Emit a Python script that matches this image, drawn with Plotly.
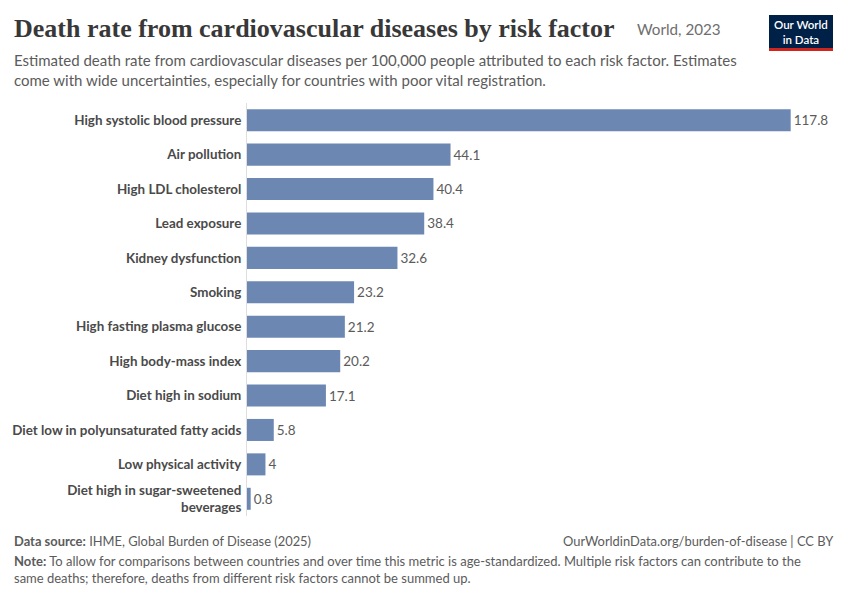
import plotly.graph_objects as go

# Data (World, 2023), deaths per 100,000
risk_factors = [
    "High systolic blood pressure",
    "Air pollution",
    "High LDL cholesterol",
    "Lead exposure",
    "Kidney dysfunction",
    "Smoking",
    "High fasting plasma glucose",
    "High body-mass index",
    "Diet high in sodium",
    "Diet low in polyunsaturated fatty acids",
    "Low physical activity",
    "Diet high in sugar-sweetened<br>beverages",
]
death_rates = [117.8, 44.1, 40.4, 38.4, 32.6, 23.2, 21.2, 20.2, 17.1, 5.8, 4, 0.8]
value_labels = ["117.8", "44.1", "40.4", "38.4", "32.6", "23.2", "21.2", "20.2", "17.1", "5.8", "4", "0.8"]

BAR_COLOR = "#6d87b3"
TEXT_GRAY = "#5b5b5b"

fig = go.Figure()
fig.add_trace(go.Bar(
    x=death_rates,
    y=risk_factors,
    orientation="h",
    marker=dict(color=BAR_COLOR, line=dict(width=0)),
    width=0.64,
    text=value_labels,
    textposition="outside",
    textfont=dict(family="Lato", size=13.5, color=TEXT_GRAY),
    cliponaxis=False,
    hoverinfo="skip",
))

fig.update_layout(
    width=850,
    height=600,
    margin=dict(l=247, r=15, t=103, b=84),
    plot_bgcolor="white",
    paper_bgcolor="white",
    showlegend=False,
    font=dict(family="Lato", color=TEXT_GRAY),
    xaxis=dict(
        range=[0, 127.4],
        visible=False,
        fixedrange=True,
    ),
    yaxis=dict(
        autorange="reversed",
        showline=True,
        linecolor="#dedede",
        linewidth=1,
        showgrid=False,
        ticks="",
        ticklabelstandoff=2,
        tickfont=dict(family="Lato", size=13.4, color="#4a4a4a", weight="bold"),
        fixedrange=True,
    ),
)


def py(p):
    # pixel y -> paper y for this layout
    return (516 - p) / 413


def px(p):
    # pixel x -> paper x
    return (p - 247) / 588


# Title and subtitle
fig.add_annotation(
    x=px(12), y=py(28), xref="paper", yref="paper", xanchor="left", yanchor="middle",
    text="<b>Death rate from cardiovascular diseases by risk factor</b>",
    showarrow=False, font=dict(family="Liberation Serif", size=26, color="#383838"),
)
fig.add_annotation(
    x=px(635), y=py(29), xref="paper", yref="paper", xanchor="left", yanchor="middle",
    text="World, 2023",
    showarrow=False, font=dict(family="Lato", size=15.2, color="#6e6e6e"),
)
fig.add_annotation(
    x=px(12), y=py(70), xref="paper", yref="paper", xanchor="left", yanchor="middle",
    align="left",
    text="Estimated death rate from cardiovascular diseases per 100,000 people attributed to each risk factor. Estimates<br>"
         "come with wide uncertainties, especially for countries with poor vital registration.",
    showarrow=False, font=dict(family="Lato", size=15, color="#5b5b5b"),
)

# Footer
fig.add_annotation(
    x=px(12), y=py(541), xref="paper", yref="paper", xanchor="left", yanchor="middle",
    text="<b>Data source:</b> IHME, Global Burden of Disease (2025)",
    showarrow=False, font=dict(family="Lato", size=12.9, color="#5b5b5b"),
)
fig.add_annotation(
    x=px(836), y=py(541), xref="paper", yref="paper", xanchor="right", yanchor="middle",
    text="OurWorldinData.org/burden-of-disease | CC BY",
    showarrow=False, font=dict(family="Lato", size=12.9, color="#5b5b5b"),
)
fig.add_annotation(
    x=px(12), y=py(569), xref="paper", yref="paper", xanchor="left", yanchor="middle",
    align="left",
    text="<b>Note:</b> To allow for comparisons between countries and over time this metric is age-standardized. "
         "Multiple risk factors can contribute to the<br>same deaths; therefore, deaths from different risk factors cannot be summed up.",
    showarrow=False, font=dict(family="Lato", size=13, color="#5b5b5b"),
)

# OWID logo
fig.add_shape(type="rect", xref="paper", yref="paper",
              x0=px(769), x1=px(833), y0=py(51), y1=py(15),
              fillcolor="#002147", line=dict(width=0), layer="above")
fig.add_shape(type="rect", xref="paper", yref="paper",
              x0=px(769), x1=px(833), y0=py(51), y1=py(48),
              fillcolor="#ce261e", line=dict(width=0), layer="above")
fig.add_annotation(
    x=px(801), y=py(32), xref="paper", yref="paper", xanchor="center", yanchor="middle",
    text="Our World<br>in Data", showarrow=False,
    font=dict(family="Lato", size=11.5, color="white", weight=600),
)

fig.write_html("out.html", config={"displayModeBar": False},
               post_script="document.body.style.margin='0';")
